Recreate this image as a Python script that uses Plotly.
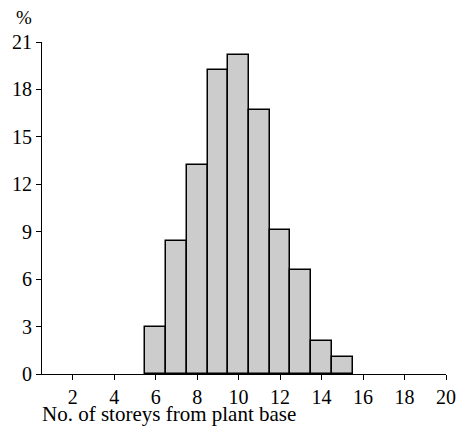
import plotly.graph_objects as go

storeys = [6, 7, 8, 9, 10, 11, 12, 13, 14, 15]
percent = [3.0, 8.4, 13.2, 19.2, 20.2, 16.7, 9.1, 6.6, 2.1, 1.1]
x_ticks = [2, 4, 6, 8, 10, 12, 14, 16, 18, 20]
y_ticks = [0, 3, 6, 9, 12, 15, 18, 21]

FAMILY = "Liberation Serif, Times New Roman, serif"
font = dict(family=FAMILY, size=20, color="black")

fig = go.Figure(go.Bar(
    x=storeys, y=percent, width=1,
    marker=dict(color="#cccccc", line=dict(color="black", width=1.5)),
))

L, R, T, B, W, H = 41, 13, 42, 54, 468, 428

fig.update_layout(
    width=W, height=H,
    margin=dict(l=L, r=R, t=T, b=B),
    paper_bgcolor="white", plot_bgcolor="white",
    font=font, showlegend=False, bargap=0,
    xaxis=dict(range=[0.52, 20], tickvals=x_ticks, ticks="outside", ticklen=5,
               tickwidth=1.2, tickcolor="black", showline=True, linecolor="black",
               linewidth=1.2, showgrid=False, zeroline=False, tickfont=font),
    yaxis=dict(range=[0, 21], tickvals=y_ticks, ticks="outside", ticklen=5,
               tickwidth=1.2, tickcolor="black", showline=True, linecolor="black",
               linewidth=1.2, showgrid=False, zeroline=False, tickfont=font),
)

pw, ph = W - L - R, H - T - B
def paper(px, py):
    return (px - L) / pw, (H - B - py) / ph

x1, y1 = paper(12, 18)
x2, y2 = paper(40, 427)
fig.add_annotation(text="%", x=x1, y=y1, xref="paper", yref="paper", showarrow=False,
                   font=dict(family=FAMILY, size=19, color="black"),
                   xanchor="left", yanchor="middle")
fig.add_annotation(text="No. of storeys from plant base", x=x2, y=y2, xref="paper",
                   yref="paper", showarrow=False,
                   font=dict(family=FAMILY, size=21, color="black"),
                   xanchor="left", yanchor="bottom", borderpad=0)

fig.write_html("out.html", config={"displayModeBar": False},
               post_script="document.body.style.margin='0';document.body.style.overflow='hidden';")
